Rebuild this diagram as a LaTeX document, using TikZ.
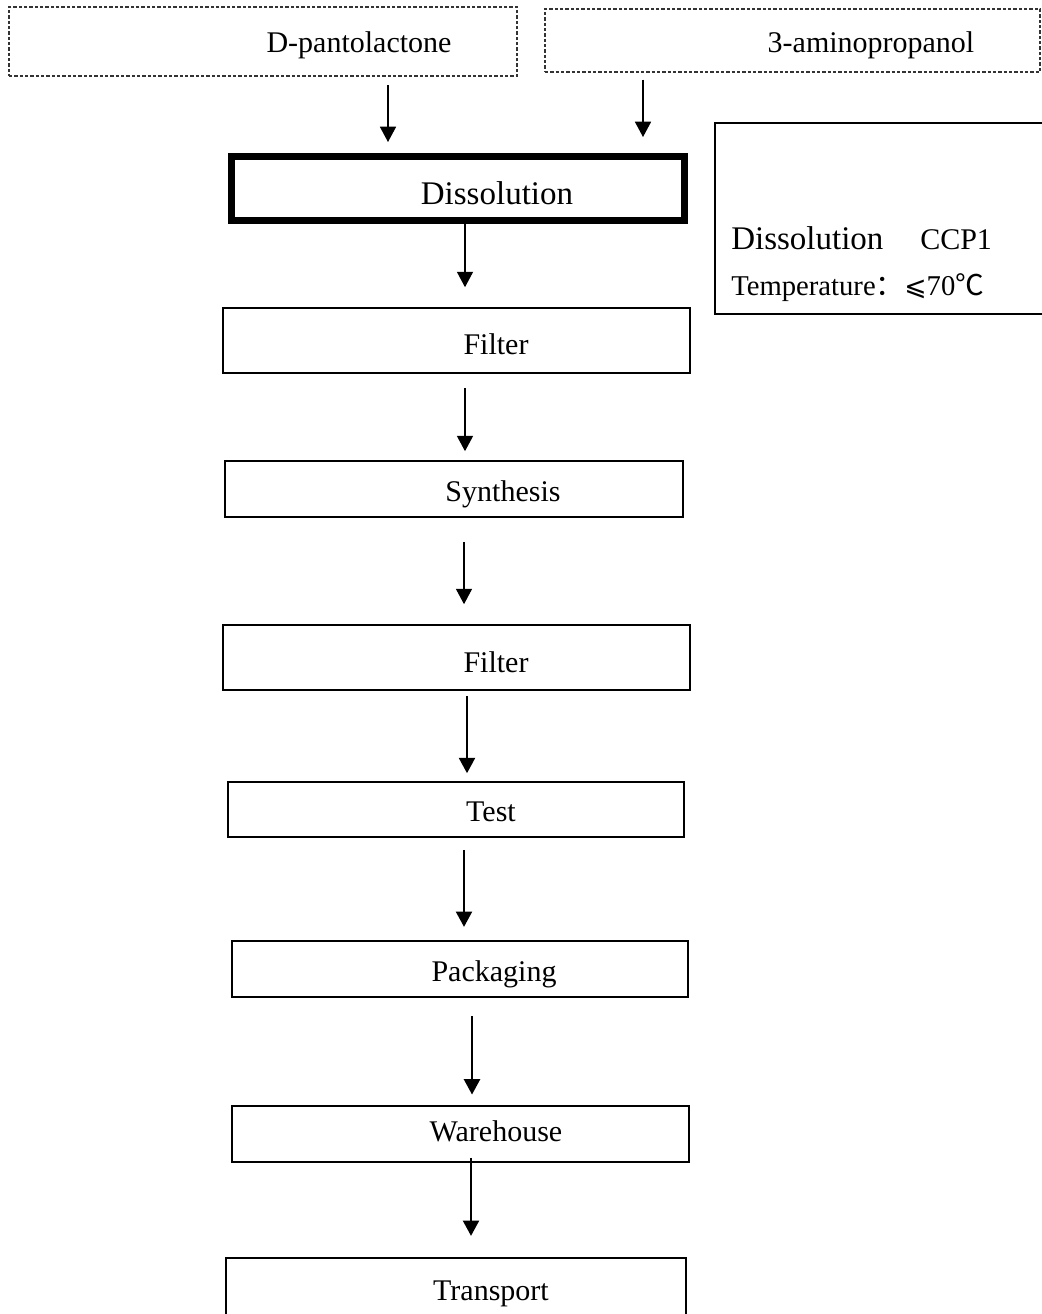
\documentclass[tikz,border=0pt]{standalone}
\usepackage{fontspec}
\setmainfont{Liberation Serif}
\newfontfamily\cjk{Noto Sans CJK SC}
\newfontfamily\dvs{DejaVu Sans}
\usetikzlibrary{arrows.meta}
\begin{document}
\begin{tikzpicture}[x=0.75pt,y=-0.75pt,
  box/.style={draw, line width=1.2pt, inner sep=0pt},
  dbox/.style={draw=black!80, line width=1.4pt, dash pattern=on 2.6pt off 1.4pt, inner sep=0pt},
  lbl/.style={anchor=base, inner sep=0pt, font=\fontsize{22.5pt}{26pt}\selectfont},
  arr/.style={-{Triangle[length=11.5pt,width=12pt]}, line width=1.2pt},
  tarr/.style={arr, line width=0.9pt},
  karr/.style={arr, line width=1.7pt}]
\useasboundingbox (0,0) rectangle (1042,1314);

% input boxes
\node[dbox, minimum width=381pt, minimum height=51.75pt] (dp) at (263,41.5) {};
\node[lbl] (dpt) at (359,52) {D-pantolactone};
\node[dbox, minimum width=371.25pt, minimum height=47.25pt] (ap) at (792.5,40.5) {};
\node[lbl] (apt) at (871,52) {3-aminopropanol};

% dissolution
\node[draw, line width=5.2pt, inner sep=0pt, minimum width=339.75pt, minimum height=48pt] (dis) at (458,188.5) {};
\node[lbl, font=\fontsize{24.75pt}{28pt}\selectfont] (dist) at (497,204) {Dissolution};

% CCP box
\node[box, minimum width=247.5pt, minimum height=143.25pt] (ccp) at (880,218.5) {};
\node[anchor=base west, inner sep=0pt, font=\fontsize{24.75pt}{28pt}\selectfont] (ccp1) at (731,249) {Dissolution};
\node[anchor=base west, inner sep=0pt, font=\fontsize{22.5pt}{26pt}\selectfont] (ccp2) at (920,249) {CCP1};
\node[anchor=base west, inner sep=0pt, font=\fontsize{21.5pt}{26pt}\selectfont] (ccp3) at (731,295) {Temperature{\cjk ：}{\dvs\fontsize{20pt}{24pt}\selectfont ⩽}70{\cjk ℃}};

% process boxes
\node[box, minimum width=350.25pt, minimum height=48.75pt] (f1) at (456.5,340.5) {};
\node[lbl] (f1t) at (496,354) {Filter};
\node[box, minimum width=343.5pt, minimum height=42pt] (syn) at (454,489) {};
\node[lbl] (synt) at (503,501) {Synthesis};
\node[box, minimum width=350.25pt, minimum height=48.75pt] (f2) at (456.5,657.5) {};
\node[lbl] (f2t) at (496,672) {Filter};
\node[box, minimum width=342pt, minimum height=41.25pt] (test) at (456,809.5) {};
\node[lbl] (testt) at (491,821) {Test};
\node[box, minimum width=342pt, minimum height=42pt] (pack) at (460,969) {};
\node[lbl] (packt) at (494,981) {Packaging};
\node[box, minimum width=342.75pt, minimum height=42pt] (wh) at (460.5,1134) {};
\node[lbl] (wht) at (496,1141) {Warehouse};
\node[box, minimum width=345pt, minimum height=54pt] (tr) at (456,1294) {};
\node[lbl] (trt) at (491,1300) {Transport};

% arrow columns
\coordinate (c0) at (388,0);
\coordinate (c00) at (643,0);
\coordinate (c1) at (465,0);
\coordinate (c2) at (465,0);
\coordinate (c3) at (464,0);
\coordinate (c4) at (467,0);
\coordinate (c5) at (464,0);
\coordinate (c6) at (472,0);
\coordinate (c7) at (471,0);

\draw[arr, shorten <=6pt, shorten >=8.25pt] (dp.south -| c0) -- (dis.north -| c0);
\draw[arr, shorten <=5pt, shorten >=12pt] (ap.south -| c00) -- (dis.north -| c00);
\draw[tarr, shorten >=15pt] (dis.south -| c1) -- (f1.north -| c1);
\draw[arr, shorten <=11pt, shorten >=6.75pt] (f1.south -| c2) -- (syn.north -| c2);
\draw[tarr, shorten <=18pt, shorten >=15pt] (syn.south -| c3) -- (f2.north -| c3);
\draw[karr, shorten <=3.75pt, shorten >=6pt] (f2.south -| c4) -- (test.north -| c4);
\draw[karr, shorten <=9pt, shorten >=10pt] (test.south -| c5) -- (pack.north -| c5);
\draw[karr, shorten <=14pt, shorten >=8pt] (pack.south -| c6) -- (wh.north -| c6);
\draw[karr, shorten <=-3.75pt, shorten >=16pt] (wh.south -| c7) -- (tr.north -| c7);
\end{tikzpicture}
\end{document}
